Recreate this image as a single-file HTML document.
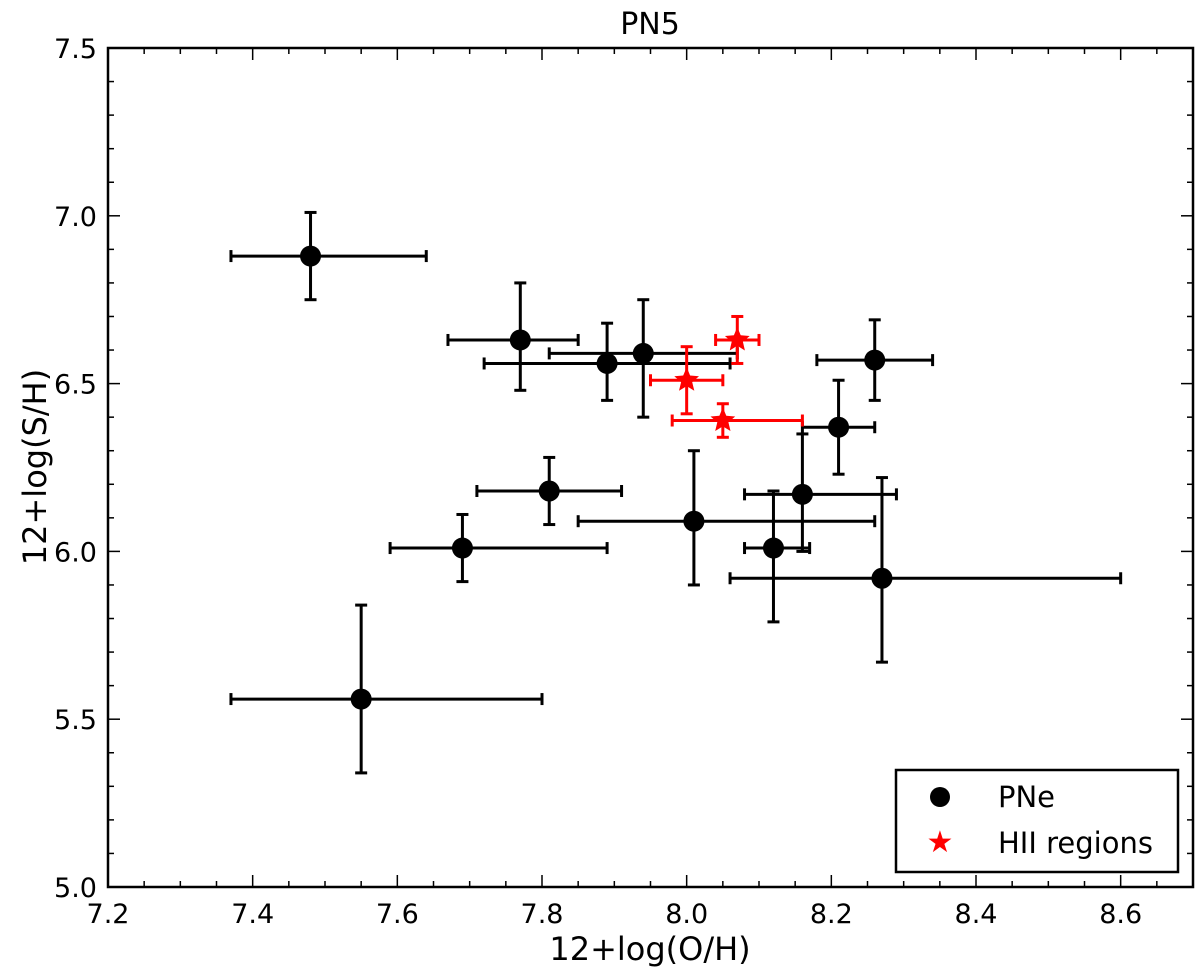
<!DOCTYPE html>
<html><head><meta charset="utf-8"><style>
body{margin:0;background:#fff}
svg text{font-family:"DejaVu Sans","Liberation Sans",sans-serif}
</style></head><body>
<svg id="c" width="1200" height="975" xmlns="http://www.w3.org/2000/svg">
<text x="650" y="34" font-size="30" text-anchor="middle">PN5</text>
<text x="650" y="960" font-size="32" text-anchor="middle">12+log(O/H)</text>
<text transform="translate(46,467) rotate(-90)" font-size="32" text-anchor="middle">12+log(S/H)</text>
<g id="ticks"></g><g id="marks"></g>
<rect x="108" y="48" width="1085" height="839" fill="none" stroke="#000" stroke-width="2.5"/>
<g>
<rect x="896" y="770" width="282" height="102" fill="#fff" stroke="#000" stroke-width="2.5"/>
<g><circle cx="940" cy="797" r="10" fill="#000"/><text x="998" y="807" font-size="29">PNe</text></g>
<g><text x="940" y="852" font-size="30" fill="red" text-anchor="middle">★</text><text x="998" y="853" font-size="29">HII regions</text></g>
</g>
</svg>
<script>
const pneX=[7.48,7.77,7.89,7.94,8.26,8.21,7.81,8.01,8.16,7.69,8.12,8.27,7.55];
const pneY=[6.88,6.63,6.56,6.59,6.57,6.37,6.18,6.09,6.17,6.01,6.01,5.92,5.56];
const pneXlo=[7.37,7.67,7.72,7.81,8.18,8.16,7.71,7.85,8.08,7.59,8.08,8.06,7.37];
const pneXhi=[7.64,7.85,8.06,8.07,8.34,8.26,7.91,8.26,8.29,7.89,8.17,8.60,7.80];
const pneYlo=[6.75,6.48,6.45,6.40,6.45,6.23,6.08,5.90,6.00,5.91,5.79,5.67,5.34];
const pneYhi=[7.01,6.80,6.68,6.75,6.69,6.51,6.28,6.30,6.35,6.11,6.18,6.22,5.84];
const hiiX=[8.07,8.00,8.05];
const hiiY=[6.63,6.51,6.39];
const hiiXlo=[8.04,7.95,7.98];
const hiiXhi=[8.10,8.05,8.16];
const hiiYlo=[6.56,6.41,6.34];
const hiiYhi=[6.70,6.61,6.44];
const xTicks=["7.2","7.4","7.6","7.8","8.0","8.2","8.4","8.6"];
const yTicks=["5.0","5.5","6.0","6.5","7.0","7.5"];
const X0=108,X1=1193,Y0=887,Y1=48,xmin=7.2,xmax=8.7,ymin=5.0,ymax=7.5;
const sx=v=>X0+(v-xmin)/(xmax-xmin)*(X1-X0);
const sy=v=>Y0-(v-ymin)/(ymax-ymin)*(Y0-Y1);
const NS="http://www.w3.org/2000/svg";
function mk(t,a,p){const e=document.createElementNS(NS,t);for(const k in a)e.setAttribute(k,a[k]);p.appendChild(e);return e;}
const tg=document.getElementById('ticks'),mg=document.getElementById('marks');
for(let i=0;i<=30;i++){const v=xmin+i*0.05,x=sx(v),L=i%4==0?12:6;
mk('line',{x1:x,x2:x,y1:Y0,y2:Y0-L,stroke:'#000','stroke-width':1.5},tg);
mk('line',{x1:x,x2:x,y1:Y1,y2:Y1+L,stroke:'#000','stroke-width':1.5},tg);}
xTicks.forEach(t=>{const e=mk('text',{x:sx(+t),y:923,'font-size':27,'text-anchor':'middle'},tg);e.textContent=t;

});
for(let i=0;i<=25;i++){const v=ymin+i*0.1,y=sy(v),L=i%5==0?12:6;
mk('line',{x1:X0,x2:X0+L,y1:y,y2:y,stroke:'#000','stroke-width':1.5},tg);
mk('line',{x1:X1,x2:X1-L,y1:y,y2:y,stroke:'#000','stroke-width':1.5},tg);}
yTicks.forEach(t=>{const e=mk('text',{x:97,y:sy(+t)+10,'font-size':27,'text-anchor':'end'},tg);e.textContent=t;

});
function eb(x,y,xl,xh,yl,yh,col,g){
const a={stroke:col,'stroke-width':3};
mk('line',Object.assign({x1:sx(xl),x2:sx(xh),y1:sy(y),y2:sy(y)},a),g);
mk('line',Object.assign({x1:sx(x),x2:sx(x),y1:sy(yl),y2:sy(yh)},a),g);
[xl,xh].forEach(v=>mk('line',Object.assign({x1:sx(v),x2:sx(v),y1:sy(y)-6,y2:sy(y)+6,'stroke-width':4},a),g));
[yl,yh].forEach(v=>mk('line',Object.assign({x1:sx(x)-6,x2:sx(x)+6,y1:sy(v),y2:sy(v),'stroke-width':4},a),g));}
pneX.forEach((x,i)=>{const g=mk('g',{},mg);


eb(x,pneY[i],pneXlo[i],pneXhi[i],pneYlo[i],pneYhi[i],'#000',g);
mk('circle',{cx:sx(x),cy:sy(pneY[i]),r:10.5,fill:'#000'},g);});
function star(cx,cy,R){let p=[];for(let k=0;k<10;k++){const r=k%2?R*0.45:R,a=-Math.PI/2+k*Math.PI/5;p.push((cx+r*Math.cos(a)).toFixed(1)+','+(cy+r*Math.sin(a)).toFixed(1));}return p.join(' ');}
hiiX.forEach((x,i)=>{const g=mk('g',{},mg);


eb(x,hiiY[i],hiiXlo[i],hiiXhi[i],hiiYlo[i],hiiYhi[i],'red',g);
mk('polygon',{points:star(sx(x),sy(hiiY[i]),13),fill:'red'},g);});
</script>
</body></html>
